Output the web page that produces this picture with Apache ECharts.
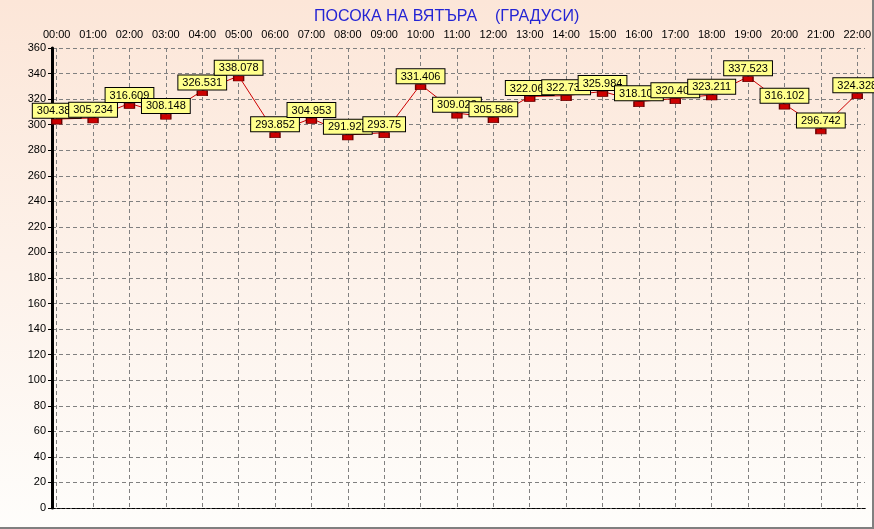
<!DOCTYPE html>
<html>
<head>
<meta charset="utf-8">
<script src="https://cdn.jsdelivr.net/npm/echarts@6/dist/echarts.min.js"></script>
<style>html,body{margin:0;padding:0;background:#fff}#c{width:874px;height:529px}</style>
</head>
<body>
<div id="c"></div>
<script>
var titleText = 'ПОСОКА НА ВЯТЪРА    (ГРАДУСИ)';
var hours = ['00:00','01:00','02:00','03:00','04:00','05:00','06:00','07:00','08:00','09:00','10:00','11:00','12:00','13:00','14:00','15:00','16:00','17:00','18:00','19:00','20:00','21:00','22:00'];
var direction = [304.386,305.234,316.609,308.148,326.531,338.078,293.852,304.953,291.922,293.75,331.406,309.023,305.586,322.063,322.734,325.984,318.102,320.406,323.211,337.523,316.102,296.742,324.328];
var yMin = 0, yMax = 360, yStep = 20;

var FONT = 'Arial, "Liberation Sans", sans-serif';
var chart = echarts.init(document.getElementById('c'), null, {renderer: 'canvas'});
var dash = [4, 3];
chart.setOption({
  animation: false,
  backgroundColor: {type: 'linear', x: 0, y: 0, x2: 0, y2: 1, colorStops: [
    {offset: 0, color: '#fce6d8'}, {offset: 1, color: '#fefdfb'}]},
  title: {text: titleText, left: 309, top: 4,
    textStyle: {color: '#2424d4', fontSize: 16, fontWeight: 'normal', fontFamily: FONT}},
  graphic: [
    {type: 'line', shape: {x1: 0, y1: 528, x2: 874, y2: 528}, style: {stroke: '#808080', lineWidth: 2}},
    {type: 'line', shape: {x1: 873, y1: 0, x2: 873, y2: 529}, style: {stroke: '#808080', lineWidth: 2}}
  ],
  grid: [
    {left: 52, right: 9, top: 48, bottom: 21},
    {left: 56.7, right: 13.2, top: 48, bottom: 21}
  ],
  xAxis: [
    {gridIndex: 0, type: 'value', min: 0, max: 1, position: 'top',
      axisLine: {show: true, lineStyle: {color: '#000', width: 1, type: [3, 2]}},
      axisTick: {show: false}, axisLabel: {show: false}, splitLine: {show: false}},
    {gridIndex: 0, type: 'value', min: 0, max: 1, position: 'bottom',
      axisLine: {show: true, onZero: false, lineStyle: {color: '#000', width: 1, type: [3, 2]}},
      axisTick: {show: false}, axisLabel: {show: false}, splitLine: {show: false}},
    {gridIndex: 1, type: 'category', data: hours, boundaryGap: false, position: 'top',
      axisLine: {show: false}, axisTick: {show: false},
      axisLabel: {interval: 0, color: '#000', fontSize: 11, fontFamily: FONT, margin: 8},
      splitLine: {show: true, interval: 0, lineStyle: {color: '#808080', type: dash, width: 1}}}
  ],
  yAxis: [
    {gridIndex: 0, type: 'value', min: yMin, max: yMax, interval: yStep, position: 'left',
      axisLine: {show: true, lineStyle: {color: '#000', width: 3}},
      axisTick: {show: true, length: 4, lineStyle: {color: '#000'}},
      axisLabel: {color: '#000', fontSize: 11, fontFamily: FONT, margin: 6},
      splitLine: {show: true, lineStyle: {color: '#808080', type: dash, width: 1}}},
    {gridIndex: 0, type: 'value', min: yMin, max: yMax, interval: yStep, position: 'right',
      axisLine: {show: true, lineStyle: {color: '#000', width: 2}},
      axisTick: {show: false}, axisLabel: {show: false}, splitLine: {show: false}},
    {gridIndex: 1, type: 'value', min: yMin, max: yMax, interval: yStep, show: false}
  ],
  series: [{
    type: 'line', xAxisIndex: 2, yAxisIndex: 2, data: direction,
    lineStyle: {color: '#cc0000', width: 1},
    symbol: 'rect', symbolSize: [10, 5], symbolOffset: [0, 2.5], showAllSymbol: true,
    itemStyle: {color: '#cc0000', borderColor: '#6a0000', borderWidth: 1},
    label: {show: true, position: 'top', distance: 1, color: '#000', fontSize: 11, fontFamily: FONT,
      backgroundColor: '#ffff8c', borderColor: '#000', borderWidth: 1, padding: [2, 4, 1, 4],
      formatter: function (p) { return String(p.value); }},
    emphasis: {disabled: true}
  }]
});
</script>
</body>
</html>
